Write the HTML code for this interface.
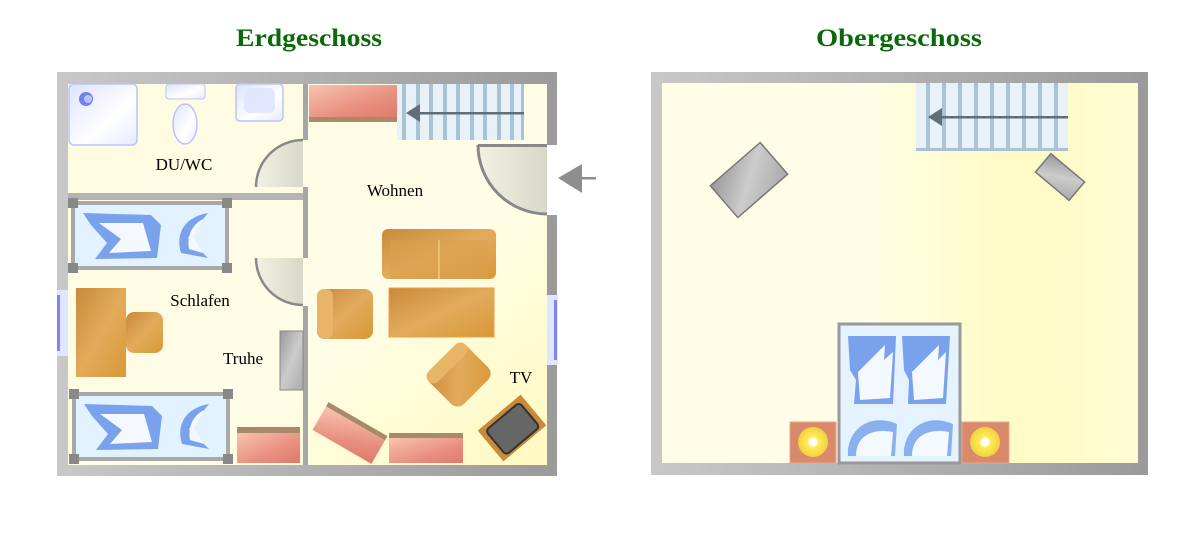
<!DOCTYPE html>
<html><head><meta charset="utf-8"><style>
html,body{margin:0;padding:0;background:#fff;width:1198px;height:540px;overflow:hidden}
svg{display:block}
text{font-family:"Liberation Serif",serif}
</style></head><body>
<svg width="1198" height="540" viewBox="0 0 1198 540" xmlns="http://www.w3.org/2000/svg">
<defs>
<linearGradient id="floor" x1="0" y1="0" x2="1" y2="1">
<stop offset="0" stop-color="#fffbe0"/><stop offset="0.6" stop-color="#fffde8"/><stop offset="1" stop-color="#fffac0"/></linearGradient>
<linearGradient id="floor2" x1="0" y1="0" x2="1" y2="0">
<stop offset="0" stop-color="#fffde6"/><stop offset="0.4" stop-color="#fffde8"/><stop offset="0.75" stop-color="#fffbc4"/><stop offset="1" stop-color="#fffcd4"/></linearGradient>
<linearGradient id="wall" x1="0" y1="0" x2="1" y2="0">
<stop offset="0" stop-color="#c8c8c8"/><stop offset="1" stop-color="#9a9a9a"/></linearGradient>
<linearGradient id="wood" x1="0" y1="0" x2="1" y2="1">
<stop offset="0" stop-color="#c9893a"/><stop offset="0.5" stop-color="#e2ab5c"/><stop offset="1" stop-color="#d99838"/></linearGradient>
<linearGradient id="red" x1="0" y1="0" x2="1" y2="1">
<stop offset="0" stop-color="#f7c4b0"/><stop offset="0.6" stop-color="#e99080"/><stop offset="1" stop-color="#de7a6a"/></linearGradient>
<linearGradient id="grey" x1="0" y1="0" x2="1" y2="1">
<stop offset="0" stop-color="#999"/><stop offset="0.5" stop-color="#ccc"/><stop offset="1" stop-color="#aaa"/></linearGradient>
<linearGradient id="door" x1="0" y1="0" x2="1" y2="0">
<stop offset="0" stop-color="#f2f2e4"/><stop offset="1" stop-color="#d8d8c8"/></linearGradient>
<linearGradient id="bath" x1="0" y1="0" x2="1" y2="1">
<stop offset="0" stop-color="#dde3ff"/><stop offset="0.6" stop-color="#ffffff"/><stop offset="1" stop-color="#e6eaff"/></linearGradient>
<radialGradient id="lamp"><stop offset="0" stop-color="#fff"/><stop offset="0.25" stop-color="#fff"/><stop offset="0.35" stop-color="#ffee55"/><stop offset="1" stop-color="#f3d040"/></radialGradient>
<g id="bedL">
<rect x="0" y="0" width="154" height="65" fill="#e2f2ff" stroke="#a8a8a8" stroke-width="4"/>
<path d="M10 10 L78 12 L88 22 L84 55 L22 56 L34 40 L18 22 Z" fill="#7aa2ec"/>
<path d="M26 20 L70 20 L78 48 L36 50 L48 36 Z" fill="#f4f8ff"/>
<path d="M135 10 C112 14 102 30 108 50 L135 55 L115 35 Z" fill="#7aa2ec"/>
<path d="M130 16 C118 22 114 34 116 46 L130 50 L120 34 Z" fill="#f4f8ff"/>
<rect x="-5" y="-5" width="10" height="10" fill="#888"/><rect x="149" y="-5" width="10" height="10" fill="#888"/>
<rect x="-5" y="60" width="10" height="10" fill="#888"/><rect x="149" y="60" width="10" height="10" fill="#888"/>
</g>
</defs>

<text x="236" y="46" font-size="25" font-weight="bold" fill="#0a6a0a" textLength="146" lengthAdjust="spacingAndGlyphs">Erdgeschoss</text>
<text x="816" y="46" font-size="25" font-weight="bold" fill="#0a6a0a" textLength="166" lengthAdjust="spacingAndGlyphs">Obergeschoss</text>

<!-- LEFT PLAN -->
<rect x="57" y="72" width="500" height="404" fill="url(#wall)"/>
<rect x="68" y="84" width="479" height="381" fill="url(#floor)"/>
<rect x="547" y="145" width="11" height="70" fill="#fff"/>
<rect x="57" y="290" width="11" height="66" fill="#dfe6ff"/>
<rect x="57" y="295" width="3" height="56" fill="#7e86ee"/>
<rect x="547" y="295" width="11" height="70" fill="#dfe6ff"/>
<rect x="554" y="300" width="3" height="60" fill="#7e86ee"/>
<rect x="303" y="84" width="5" height="56" fill="#a6a6a6"/>
<rect x="303" y="187" width="5" height="71" fill="#a6a6a6"/>
<rect x="303" y="306" width="5" height="159" fill="#a6a6a6"/>
<rect x="68" y="193" width="235" height="7" fill="#b4b4b4"/>
<path d="M303 187 L256 187 A47 47 0 0 1 303 140 Z" fill="url(#door)"/>
<path d="M256 187 A47 47 0 0 1 303 140" fill="none" stroke="#888" stroke-width="2.5"/>
<path d="M303 258 L256 258 A47 47 0 0 0 303 305 Z" fill="url(#door)"/>
<path d="M256 258 A47 47 0 0 0 303 305" fill="none" stroke="#888" stroke-width="2.5"/>
<path d="M547 145 L478 145 A69 69 0 0 0 547 214 Z" fill="url(#door)"/>
<path d="M478 145 A69 69 0 0 0 547 214" fill="none" stroke="#888" stroke-width="3"/>
<rect x="478" y="144" width="69" height="3" fill="#888"/>
<polygon points="558,178 582,164 582,193" fill="#8e8e8e"/>
<rect x="580" y="177" width="16" height="2.5" fill="#8e8e8e"/>
<rect x="69" y="84" width="68" height="61" rx="5" fill="url(#bath)" stroke="#b8c4ff" stroke-width="1.5"/>
<circle cx="86" cy="99" r="7" fill="#6d82f0"/><circle cx="88" cy="99" r="4" fill="#b8c4ff"/>
<rect x="166" y="84" width="39" height="15" rx="3" fill="url(#bath)" stroke="#b8c4ff"/>
<ellipse cx="185" cy="124" rx="12" ry="20" fill="url(#bath)" stroke="#b8c4ff" stroke-width="1.5"/>
<rect x="236" y="84" width="47" height="37" rx="4" fill="url(#bath)" stroke="#b8c4ff" stroke-width="1.5"/>
<rect x="244" y="88" width="31" height="25" rx="6" fill="#e2e6ff"/>
<text x="184" y="170" font-size="17" text-anchor="middle">DU/WC</text>
<rect x="309" y="85" width="89" height="32" fill="url(#red)"/>
<rect x="309" y="117" width="89" height="5" fill="#a88a6a"/>
<rect x="397" y="84" width="127" height="56" fill="#e8f1f8"/>
<g fill="#a9c2d4">
<rect x="402" y="84" width="4" height="56"/><rect x="416" y="84" width="4" height="56"/><rect x="429" y="84" width="4" height="56"/><rect x="443" y="84" width="4" height="56"/><rect x="456" y="84" width="4" height="56"/><rect x="470" y="84" width="4" height="56"/><rect x="483" y="84" width="4" height="56"/><rect x="497" y="84" width="4" height="56"/><rect x="510" y="84" width="4" height="56"/><rect x="521" y="84" width="3" height="56"/>
</g>
<rect x="414" y="112" width="110" height="2.5" fill="#5f6e78"/>
<polygon points="406,113 420,104 420,122" fill="#5f6e78"/>
<text x="395" y="196" font-size="17" text-anchor="middle">Wohnen</text>
<use href="#bedL" x="73" y="203"/>
<use href="#bedL" x="74" y="394"/>
<rect x="76" y="288" width="50" height="89" fill="url(#wood)"/>
<rect x="126" y="312" width="37" height="41" rx="8" fill="url(#wood)"/>
<rect x="280" y="331" width="23" height="59" fill="url(#grey)" stroke="#888"/>
<text x="200" y="306" font-size="17" text-anchor="middle">Schlafen</text>
<text x="243" y="364" font-size="17" text-anchor="middle">Truhe</text>
<rect x="237" y="427" width="63" height="6" fill="#a88a6a"/>
<rect x="237" y="433" width="63" height="30" fill="url(#red)"/>
<rect x="382" y="229" width="114" height="50" rx="6" fill="url(#wood)"/>
<rect x="390" y="240" width="98" height="39" fill="#d8a050" opacity="0.6"/>
<line x1="439" y1="240" x2="439" y2="279" stroke="#f0c880" stroke-width="1.5"/>
<rect x="389" y="288" width="105" height="49" fill="url(#wood)" stroke="#f0a040"/>
<rect x="317" y="289" width="56" height="50" rx="8" fill="url(#wood)"/>
<rect x="317" y="289" width="16" height="50" rx="7" fill="#e8b468"/>
<g transform="translate(459,375) rotate(-45)">
<rect x="-26" y="-24" width="52" height="48" rx="9" fill="url(#wood)"/>
<rect x="-26" y="-24" width="52" height="14" rx="7" fill="#e8b468"/>
</g>
<g transform="translate(350,433) rotate(30)">
<rect x="-34" y="-16" width="68" height="5" fill="#a88a6a"/>
<rect x="-34" y="-11" width="68" height="27" fill="url(#red)"/>
</g>
<rect x="389" y="433" width="74" height="5" fill="#a88a6a"/>
<rect x="389" y="438" width="74" height="25" fill="url(#red)"/>
<g transform="translate(512,428) rotate(-40)">
<rect x="-28" y="-20" width="56" height="40" fill="#c98a3a"/>
<rect x="-22" y="-15" width="44" height="32" rx="4" fill="#666" stroke="#333" stroke-width="2"/>
</g>
<text x="521" y="383" font-size="17" text-anchor="middle">TV</text>

<!-- RIGHT PLAN -->
<rect x="651" y="72" width="497" height="403" fill="url(#wall)"/>
<rect x="662" y="83" width="476" height="380" fill="url(#floor2)"/>
<rect x="916" y="83" width="152" height="68" fill="#e8f1f8"/>
<g fill="#a9c2d4">
<rect x="926" y="83" width="4" height="68"/><rect x="942" y="83" width="4" height="68"/><rect x="958" y="83" width="4" height="68"/><rect x="974" y="83" width="4" height="68"/><rect x="990" y="83" width="4" height="68"/><rect x="1006" y="83" width="4" height="68"/><rect x="1022" y="83" width="4" height="68"/><rect x="1038" y="83" width="4" height="68"/><rect x="1054" y="83" width="4" height="68"/>
<rect x="916" y="148" width="152" height="3"/>
</g>
<rect x="938" y="116" width="130" height="2.5" fill="#5f6e78"/>
<polygon points="928,117 942,108 942,126" fill="#5f6e78"/>
<g transform="translate(749,180) rotate(-41)">
<rect x="-33" y="-21" width="66" height="42" fill="url(#grey)" stroke="#777" stroke-width="1.5"/>
</g>
<g transform="translate(1060,177) rotate(40)">
<rect x="-22" y="-12" width="44" height="24" fill="url(#grey)" stroke="#777" stroke-width="1.5"/>
</g>
<rect x="839" y="324" width="121" height="139" fill="#e4f3ff" stroke="#999" stroke-width="3"/>
<path d="M848 336 L896 336 L893 404 L854 404 L856 380 L850 370 Z" fill="#7aa2ec"/>
<path d="M902 336 L950 336 L946 404 L908 404 L909 380 L904 370 Z" fill="#7aa2ec"/>
<path d="M858 372 L885 345 L884 360 L893 352 L890 398 L860 400 Z" fill="#f4f8ff"/>
<path d="M912 372 L939 345 L938 360 L946 352 L943 398 L914 400 Z" fill="#f4f8ff"/>
<path d="M848 456 C846 430 870 412 897 424 L895 456 Z" fill="#8ab0f0"/>
<path d="M856 456 C856 436 872 428 893 432 L891 456 Z" fill="#f4f8ff"/>
<path d="M904 456 C902 430 926 412 953 424 L951 456 Z" fill="#8ab0f0"/>
<path d="M912 456 C912 436 928 428 949 432 L947 456 Z" fill="#f4f8ff"/>
<rect x="790" y="422" width="46" height="41" fill="#d88a6a" stroke="#e8a890"/>
<circle cx="813" cy="442" r="15" fill="url(#lamp)"/>
<rect x="962" y="422" width="47" height="41" fill="#d88a6a" stroke="#e8a890"/>
<circle cx="985" cy="442" r="15" fill="url(#lamp)"/>
</svg>
</body></html>
